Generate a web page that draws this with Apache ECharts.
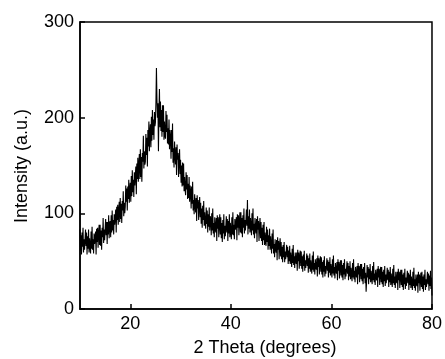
<!DOCTYPE html>
<html>
<head>
<meta charset="utf-8">
<script src="https://cdn.jsdelivr.net/npm/echarts@6/dist/echarts.min.js"></script>
<style>
html,body{margin:0;padding:0;background:#fff;}
#chart{width:445px;height:359px;}
</style>
</head>
<body>
<div id="chart"></div>
<script>
// Scan grid (instrument settings): start angle and step in degrees 2θ
const thetaStart = 10;
const thetaStep = 0.1;

// Intensity readings (a.u.), 10 per degree from 10° to 80°
const intensity = [
  83,61,77,57,80,65,85,59,73,62,
  61,83,66,80,57,76,63,83,59,74,
  75,58,81,63,86,62,73,58,79,68,
  66,81,57,84,70,85,64,79,88,67,
  88,66,82,62,85,75,95,69,83,72,
  72,94,77,91,68,91,78,98,74,89,
  92,75,98,80,103,82,93,78,99,88,
  89,104,80,107,93,109,88,103,112,91,
  116,94,110,90,113,103,123,97,111,100,
  107,129,112,126,103,128,115,135,111,126,
  132,112,139,118,145,122,135,117,143,129,
  131,149,120,152,136,158,133,151,162,136,
  167,138,159,133,163,154,181,147,165,151,
  154,183,161,179,149,187,170,196,165,185,
  193,169,201,176,208,182,198,177,206,191,
  195,216,252,220,200,215,165,207,230,190,
  217,186,208,180,213,185,213,177,196,181,
  178,207,185,203,173,189,172,198,167,187,
  180,157,187,164,194,153,168,148,175,161,
  151,169,140,172,156,163,138,156,167,141,
  156,132,150,128,153,129,152,123,138,126,
  119,143,125,140,115,131,116,138,112,129,
  122,105,128,110,133,103,114,99,120,109,
  101,116,92,119,105,114,93,108,117,96,
  111,89,105,85,108,93,113,87,101,90,
  84,106,89,103,80,99,86,106,82,97,
  94,77,100,82,105,79,90,75,96,85,
  80,95,71,98,84,96,75,90,99,78,
  96,74,90,70,93,79,99,73,87,76,
  75,97,80,94,71,92,79,99,75,90,
  90,73,96,78,101,77,88,73,94,83,
  81,96,72,99,85,98,77,92,101,80,
  101,79,95,75,98,85,105,79,93,82,
  82,104,87,114,78,97,84,104,80,95,
  94,77,100,82,105,78,89,74,95,84,
  79,94,70,97,83,92,71,86,95,74,
  91,71,85,67,88,72,91,67,80,70,
  66,86,70,83,62,77,66,84,62,76,
  74,58,79,63,83,58,68,54,73,63,
  59,72,51,75,62,71,52,66,74,55,
  70,52,65,49,67,54,70,49,60,52,
  50,67,54,65,47,61,50,66,47,59,
  58,44,63,48,67,46,55,43,59,51,
  47,59,40,62,50,59,42,54,61,45,
  60,42,55,39,57,45,61,40,51,43,
  41,58,45,56,38,53,42,58,39,51,
  51,37,56,41,60,39,48,36,52,44,
  41,53,34,56,44,53,36,48,55,39,
  54,36,49,33,51,39,55,34,45,37,
  36,53,40,51,33,49,38,54,35,47,
  47,33,52,37,56,35,44,32,48,40,
  37,49,30,52,40,49,32,44,51,35,
  51,33,46,30,48,36,52,31,42,34,
  33,50,37,48,30,45,34,50,31,43,
  43,29,48,33,52,31,40,28,44,36,
  33,45,26,48,36,45,28,41,47,31,
  47,29,42,26,44,32,48,27,38,18,
  29,46,33,44,26,42,31,47,28,40,
  40,26,45,30,49,28,37,25,41,33,
  30,42,23,45,33,42,25,38,44,28,
  44,26,39,23,41,29,45,24,36,27,
  26,43,30,41,23,39,28,44,25,37,
  37,23,42,27,46,25,34,22,39,30,
  27,39,20,42,30,39,22,35,41,25,
  41,23,36,20,38,26,42,21,33,24,
  23,40,27,38,20,36,25,41,22,34,
  34,20,39,24,43,22,31,19,36,27,
  24,36,17,39,27,36,19,32,38,23,
  39,21,34,18,36,25,41,20,31,23,
  22,39,26,37,19,35,24,40,21,33,
  14
];

// Tick labels
const xTicks = [20, 40, 60, 80];
const yTicks = [0, 100, 200, 300];
const xTitle = '2 Theta (degrees)';
const yTitle = 'Intensity (a.u.)';

const seriesData = intensity.map((v, i) => [+(thetaStart + i * thetaStep).toFixed(2), v]);

const font = 'Liberation Sans, Arial, sans-serif';
const chart = echarts.init(document.getElementById('chart'), null, {renderer: 'canvas'});
chart.setOption({
  animation: false,
  backgroundColor: '#fff',
  grid: {left: 80, right: 12, top: 22, bottom: 50, show: true, borderColor: '#000', borderWidth: 1.5, backgroundColor: 'transparent'},
  xAxis: {
    type: 'value', min: 10, max: 80,
    axisLine: {show: true, lineStyle: {color: '#000', width: 1.5}},
    axisTick: {show: true, inside: true, length: 5, lineStyle: {color: '#000', width: 1.5}, customValues: xTicks},
    axisLabel: {color: '#000', fontSize: 18, fontFamily: font, margin: 6, customValues: xTicks},
    splitLine: {show: false}
  },
  yAxis: {
    type: 'value', min: 0, max: 300, interval: 100,
    axisLine: {show: true, lineStyle: {color: '#000', width: 1.5}},
    axisTick: {show: true, inside: true, length: 5, lineStyle: {color: '#000', width: 1.5}},
    axisLabel: {color: '#000', fontSize: 18, fontFamily: font, margin: 6, customValues: yTicks},
    splitLine: {show: false}
  },
  graphic: [
    {type: 'text', x: 265, y: 348, style: {text: xTitle, fill: '#000', font: '18px ' + font, textAlign: 'center', textVerticalAlign: 'middle'}},
    {type: 'text', x: 22, y: 166, rotation: Math.PI / 2, style: {text: yTitle, fill: '#000', font: '18px ' + font, textAlign: 'center', textVerticalAlign: 'middle'}}
  ],
  series: [{
    type: 'line', data: seriesData, showSymbol: false, symbol: 'none', sampling: 'none',
    lineStyle: {color: '#000', width: 1.1}, clip: true
  }]
});
</script>
</body>
</html>
